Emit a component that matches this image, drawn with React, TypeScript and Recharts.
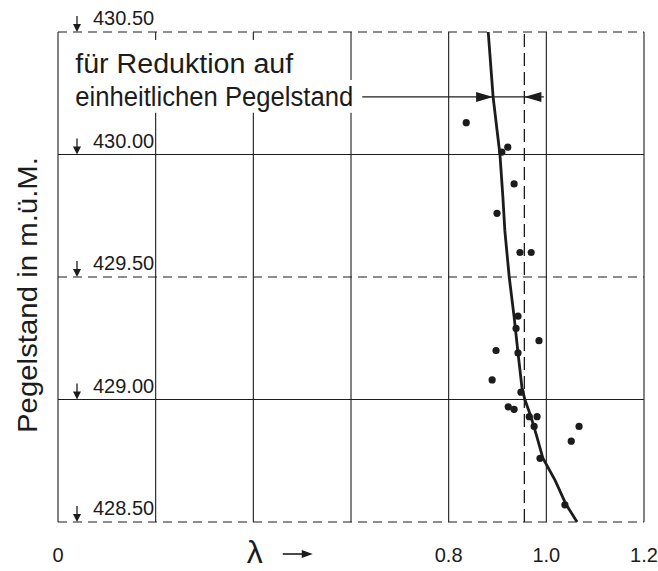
import {
  ComposedChart,
  Scatter,
  XAxis,
  YAxis,
  ReferenceLine,
  ReferenceArea,
  ReferenceDot,
} from "recharts";

const INK = "#1c1c1c";
const FONT = "'Liberation Sans', Arial, sans-serif";

// axis ticks
const xTicks = [0, 0.45, 0.8, 1.0, 1.2];
const xTickLabels = ["0", "λ", "0.8", "1.0", "1.2"];
const yTicks = [428.5, 429.0, 429.5, 430.0, 430.5];
const yTickLabels = ["428.50", "429.00", "429.50", "430.00", "430.50"];

// grid
const solidX = [0, 0.2, 0.4, 0.6, 0.8, 1.0, 1.2];
const dashedX = [0.955];
const solidY = [429.0, 430.0];
const dashedY = [428.5, 429.5, 430.5];

// measured points (lambda, water level)
const pointLambda = [
  0.836, 0.921, 0.909, 0.934, 0.899, 0.946, 0.969, 0.942, 0.938, 0.985, 0.897, 0.942,
  0.889, 0.948, 0.922, 0.934, 0.965, 0.981, 0.975, 1.067, 1.051, 0.987, 1.038,
];
const pointLevel = [
  430.13, 430.03, 430.01, 429.88, 429.76, 429.6, 429.6, 429.34, 429.29, 429.24, 429.2, 429.19,
  429.08, 429.03, 428.97, 428.96, 428.93, 428.93, 428.89, 428.89, 428.83, 428.76, 428.57,
];

// fitted curve
const curveLambda = [
  0.881, 0.891, 0.899, 0.905, 0.911, 0.915, 0.924, 0.934, 0.942, 0.95, 0.956, 0.969, 0.981,
  0.993, 1.018, 1.04, 1.063,
];
const curveLevel = [
  430.5, 430.235, 430.1, 430.0, 429.827, 429.69, 429.5, 429.337, 429.19, 429.05, 429.0,
  428.927, 428.845, 428.76, 428.67, 428.573, 428.5,
];

// annotation
const noteLines = ["für Reduktion auf", "einheitlichen Pegelstand"];
const noteArrowLevel = 430.235;
const noteArrowFrom = 0.623;
const noteArrowTo = 0.995;
const noteTipCurve = 0.891;
const noteTipRef = 0.955;

const points = pointLambda.map((l, i) => ({ l, h: pointLevel[i] }));
const curve = curveLambda.map((l, i) => ({ l, h: curveLevel[i] }));

function LevelTick(props: any) {
  const { x, y, payload } = props;
  const label = yTickLabels[yTicks.indexOf(payload.value)];
  const ax = x + 19;
  return (
    <g>
      <line x1={ax} x2={ax} y1={y - 16} y2={y - 5} stroke={INK} strokeWidth={1.3} />
      <path d={`M${ax - 4},${y - 8} L${ax + 4},${y - 8} L${ax},${y} Z`} fill={INK} />
      <text x={x + 35} y={y - 14} dominantBaseline="central" fontSize={20} fontFamily={FONT} fill={INK}>
        {label}
      </text>
    </g>
  );
}

function LambdaTick(props: any) {
  const { x, y, payload } = props;
  const label = xTickLabels[xTicks.indexOf(payload.value)];
  if (label === "λ") {
    const ay = y + 32;
    return (
      <g>
        <text x={x - 23} y={y + 41} textAnchor="middle" fontSize={32} fontFamily={FONT} fill={INK}>
          {label}
        </text>
        <line x1={x + 5} x2={x + 26} y1={ay} y2={ay} stroke={INK} strokeWidth={1.6} />
        <path d={`M${x + 35},${ay} L${x + 24},${ay - 4} L${x + 24},${ay + 4} Z`} fill={INK} />
      </g>
    );
  }
  return (
    <text x={x} y={y + 33} textAnchor="middle" dominantBaseline="central" fontSize={20} fontFamily={FONT} fill={INK}>
      {label}
    </text>
  );
}

function ArrowHead({ cx, cy, dir }: any) {
  const len = 17;
  const half = 5;
  const base = cx - dir * len;
  return <path d={`M${cx},${cy} L${base},${cy - half} L${base},${cy + half} Z`} fill={INK} />;
}

function NoteText(text: string, width: number) {
  return ({ viewBox }: any) => (
    <text
      x={viewBox.x + 5}
      y={viewBox.y + viewBox.height - 7}
      fontSize={27}
      fontFamily={FONT}
      fill={INK}
      textLength={width}
      lengthAdjust="spacingAndGlyphs"
    >
      {text}
    </text>
  );
}

export default function App() {
  return (
    <div style={{ position: "absolute", left: 0, top: 0, background: "#fff" }}>
      <ComposedChart width={658} height={571} margin={{ top: 32, right: 14, bottom: 0, left: 0 }}>
        <XAxis
          type="number"
          dataKey="l"
          domain={[0, 1.2]}
          ticks={xTicks}
          allowDataOverflow
          axisLine={false}
          tickLine={false}
          tickSize={0}
          tickMargin={0}
          height={49}
          tick={<LambdaTick />}
          interval={0}
        />
        <YAxis
          type="number"
          dataKey="h"
          domain={[428.5, 430.5]}
          ticks={yTicks}
          allowDataOverflow
          axisLine={false}
          tickLine={false}
          tickSize={0}
          tickMargin={0}
          width={58}
          tick={<LevelTick />}
          interval={0}
          label={{
            content: ({ viewBox }: any) => {
              const cx = viewBox.x + 37;
              const cy = viewBox.y + viewBox.height / 2 + 18;
              return (
                <text
                  x={cx}
                  y={cy}
                  transform={`rotate(-90, ${cx}, ${cy})`}
                  textAnchor="middle"
                  fontSize={28}
                  fontFamily={FONT}
                  fill={INK}
                  textLength={276}
                  lengthAdjust="spacingAndGlyphs"
                >
                  Pegelstand in m.ü.M.
                </text>
              );
            },
          }}
        />
        {solidX.map((v) => (
          <ReferenceLine key={`sx${v}`} x={v} stroke={INK} strokeWidth={1.1} />
        ))}
        {dashedX.map((v) => (
          <ReferenceLine key={`dx${v}`} x={v} stroke={INK} strokeWidth={1.3} strokeDasharray="13 6" />
        ))}
        {solidY.map((v) => (
          <ReferenceLine key={`sy${v}`} y={v} stroke={INK} strokeWidth={1} />
        ))}
        {dashedY.map((v) => (
          <ReferenceLine key={`dy${v}`} y={v} stroke={INK} strokeWidth={1.1} strokeDasharray="9 6" />
        ))}
        <ReferenceArea
          x1={0.025}
          x2={0.5}
          y1={430.304}
          y2={430.467}
          fill="#fff"
          fillOpacity={1}
          stroke="none"
          label={{ content: NoteText(noteLines[0], 218) }}
          {...({ zIndex: 450 } as any)}
        />
        <ReferenceArea
          x1={0.025}
          x2={0.61}
          y1={430.17}
          y2={430.304}
          fill="#fff"
          fillOpacity={1}
          stroke="none"
          label={{ content: NoteText(noteLines[1], 278) }}
          {...({ zIndex: 450 } as any)}
        />
        <ReferenceLine
          segment={[
            { x: noteArrowFrom, y: noteArrowLevel },
            { x: noteArrowTo, y: noteArrowLevel },
          ]}
          stroke={INK}
          strokeWidth={1.2}
          {...({ zIndex: 460 } as any)}
        />
        <ReferenceDot
          x={noteTipCurve}
          y={noteArrowLevel}
          r={0}
          shape={(p: any) => <ArrowHead cx={p.cx} cy={p.cy} dir={1} />}
          {...({ zIndex: 470 } as any)}
        />
        <ReferenceDot
          x={noteTipRef}
          y={noteArrowLevel}
          r={0}
          shape={(p: any) => <ArrowHead cx={p.cx} cy={p.cy} dir={-1} />}
          {...({ zIndex: 470 } as any)}
        />
        <Scatter
          data={curve}
          line={{ stroke: INK, strokeWidth: 2.8 }}
          lineType="joint"
          shape={() => <g />}
          isAnimationActive={false}
        />
        <Scatter
          data={points}
          shape={(p: any) => <circle cx={p.cx} cy={p.cy} r={3.6} fill={INK} />}
          isAnimationActive={false}
        />
      </ComposedChart>
    </div>
  );
}
